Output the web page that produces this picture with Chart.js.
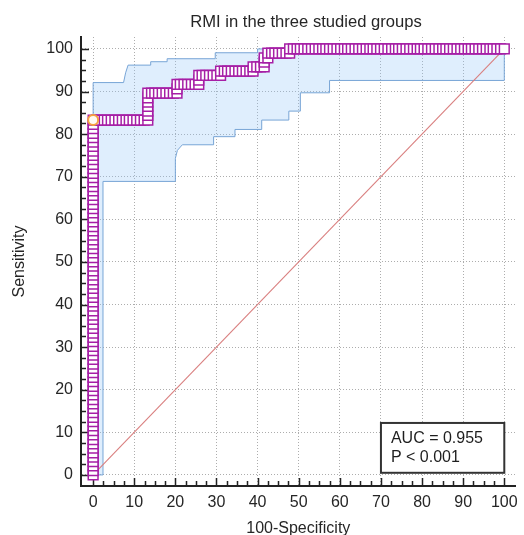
<!DOCTYPE html>
<html>
<head>
<meta charset="utf-8">
<script src="https://cdn.jsdelivr.net/npm/chart.js@4.4.1/dist/chart.umd.min.js"></script>
<style>
  html, body { margin: 0; padding: 0; background: #fff; }
</style>
</head>
<body>
<canvas id="roc" width="524" height="535"></canvas>
<script>
// RMI ROC curve
const chartTitle = 'RMI in the three studied groups';
const xTitle = '100-Specificity';
const yTitle = 'Sensitivity';
const tickValues = [0, 10, 20, 30, 40, 50, 60, 70, 80, 90, 100];
const aucLines = ['AUC = 0.955', 'P < 0.001'];

// sensitivity values sitting on 100-Specificity = 0
const tprAtZero = [0, 1.0, 2.1, 3.1, 4.2, 5.2, 6.3, 7.3, 8.3, 9.4, 10.4, 11.5, 12.5, 13.5, 14.6, 15.6,
  16.7, 17.7, 18.8, 19.8, 20.8, 21.9, 22.9, 24.0, 25.0, 26.0, 27.1, 28.1, 29.2, 30.2, 31.3, 32.3,
  33.3, 34.4, 35.4, 36.5, 37.5, 38.5, 39.6, 40.6, 41.7, 42.7, 43.8, 44.8, 45.8, 46.9, 47.9, 49.0,
  50.0, 51.0, 52.1, 53.1, 54.2, 55.2, 56.3, 57.3, 58.3, 59.4, 60.4, 61.5, 62.5, 63.5, 64.6, 65.6,
  66.7, 67.7, 68.8, 69.8, 70.8, 71.9, 72.9, 74.0, 75.0, 76.0, 77.1, 78.1, 79.2, 80.2, 81.3, 82.3, 83.3];

// rest of the curve as [100-specificity, sensitivity]
const rocSteps = [
  [0.9, 83.3], [1.8, 83.3], [2.7, 83.3], [3.5, 83.3], [4.4, 83.3], [5.3, 83.3], [6.2, 83.3], [7.1, 83.3],
  [8.0, 83.3], [8.8, 83.3], [9.7, 83.3], [10.6, 83.3], [11.5, 83.3], [12.4, 83.3], [13.3, 83.3],
  [13.3, 84.4], [13.3, 85.4], [13.3, 86.5], [13.3, 87.5], [13.3, 88.5], [13.3, 89.6],
  [14.2, 89.6], [15.0, 89.6], [15.9, 89.6], [16.8, 89.6], [17.7, 89.6], [18.6, 89.6], [19.5, 89.6], [20.4, 89.6],
  [20.4, 90.6], [20.4, 91.7],
  [21.2, 91.7], [22.1, 91.7], [23.0, 91.7], [23.9, 91.7], [24.8, 91.7], [25.7, 91.7],
  [25.7, 92.7], [25.7, 93.8],
  [26.5, 93.8], [27.4, 93.8], [28.3, 93.8], [29.2, 93.8], [30.1, 93.8], [31.0, 93.8],
  [31.0, 94.8],
  [31.9, 94.8], [32.7, 94.8], [33.6, 94.8], [34.5, 94.8], [35.4, 94.8], [36.3, 94.8], [37.2, 94.8], [38.1, 94.8], [38.9, 94.8],
  [38.9, 95.8], [39.8, 95.8], [40.7, 95.8], [41.6, 95.8],
  [41.6, 96.9], [41.6, 97.9], [42.5, 97.9], [42.5, 99.0],
  [43.4, 99.0], [44.2, 99.0], [45.1, 99.0], [46.0, 99.0], [46.9, 99.0], [47.8, 99.0],
  [47.8, 100], [48.7, 100], [49.6, 100], [50.4, 100], [51.3, 100], [52.2, 100], [53.1, 100], [54.0, 100],
  [54.9, 100], [55.8, 100], [56.6, 100], [57.5, 100], [58.4, 100], [59.3, 100], [60.2, 100], [61.1, 100],
  [61.9, 100], [62.8, 100], [63.7, 100], [64.6, 100], [65.5, 100], [66.4, 100], [67.3, 100], [68.1, 100],
  [69.0, 100], [69.9, 100], [70.8, 100], [71.7, 100], [72.6, 100], [73.5, 100], [74.3, 100], [75.2, 100],
  [76.1, 100], [77.0, 100], [77.9, 100], [78.8, 100], [79.6, 100], [80.5, 100], [81.4, 100], [82.3, 100],
  [83.2, 100], [84.1, 100], [85.0, 100], [85.8, 100], [86.7, 100], [87.6, 100], [88.5, 100], [89.4, 100],
  [90.3, 100], [91.2, 100], [92.0, 100], [92.9, 100], [93.8, 100], [94.7, 100], [95.6, 100], [96.5, 100],
  [97.3, 100], [98.2, 100], [99.1, 100], [100, 100]
];

// optimal cut-off (orange circle)
const cutoffPoint = [0, 83.3];

// 95% confidence bounds
const upperBand = [[0, 0], [0, 92.1], [7.4, 92.1], [7.9, 94.4], [8.5, 96.2], [14, 96.2], [14, 97], [18, 97],
  [18, 97.7], [29.7, 97.7], [29.7, 99.1], [40, 99.1], [40, 100], [100, 100]];
const lowerBand = [[0, 0], [2.4, 0], [2.4, 68.9], [20, 68.9], [20, 74.3], [20.5, 76.2], [21.7, 77.5],
  [29.3, 77.5], [29.3, 79.4], [34.5, 79.4], [34.5, 81.1], [41, 81.1], [41, 83.3], [47.6, 83.3],
  [47.6, 85.4], [50.4, 85.4], [50.4, 89.7], [57.5, 89.7], [57.5, 92.6], [100, 92.6], [100, 100]];

const chanceLine = [[0, 0], [100, 100]];

const toXY = arr => arr.map(p => ({x: p[0], y: p[1]}));
const rocPoints = tprAtZero.map(v => ({x: 0, y: v})).concat(toXY(rocSteps));

Chart.defaults.font.family = '"Liberation Sans", Arial, sans-serif';
Chart.defaults.font.size = 16;
Chart.defaults.color = '#262626';

// inward tick marks, title and AUC box
const rocDecor = {
  id: 'rocDecor',
  beforeDatasetsDraw(chart) {
    const {ctx, scales: {x, y}, chartArea: a} = chart;
    ctx.save();
    ctx.strokeStyle = '#222';
    ctx.lineWidth = 1.5;
    ctx.beginPath();
    for (let v = 0; v <= 100; v += 2.5) {
      const len = v % 10 === 0 ? 8 : 5;
      const px = Math.round(x.getPixelForValue(v)) + 0.5;
      ctx.moveTo(px, a.bottom);
      ctx.lineTo(px, a.bottom - len);
      const py = Math.round(y.getPixelForValue(v)) + 0.5;
      ctx.moveTo(a.left, py);
      ctx.lineTo(a.left + len, py);
    }
    ctx.stroke();
    ctx.restore();
  },
  afterDraw(chart) {
    const {ctx, scales: {x, y}} = chart;
    ctx.save();
    ctx.fillStyle = '#262626';
    ctx.font = '16.6px "Liberation Sans", Arial, sans-serif';
    ctx.textAlign = 'center';
    ctx.textBaseline = 'middle';
    ctx.fillText(chartTitle, 306, 22);

    const bx1 = x.getPixelForValue(70), bx2 = x.getPixelForValue(100);
    const by1 = y.getPixelForValue(12.2), by2 = y.getPixelForValue(0.5);
    ctx.fillStyle = '#ffffff';
    ctx.fillRect(bx1, by1, bx2 - bx1, by2 - by1);
    ctx.strokeStyle = '#333';
    ctx.lineWidth = 2;
    ctx.strokeRect(bx1, by1, bx2 - bx1, by2 - by1);
    ctx.fillStyle = '#1e1e1e';
    ctx.font = '16px "Liberation Sans", Arial, sans-serif';
    ctx.textAlign = 'left';
    aucLines.forEach((t, i) => ctx.fillText(t, bx1 + 10, by1 + 16 + i * 19));
    ctx.restore();
  }
};

const axisCommon = {
  type: 'linear',
  afterBuildTicks: s => { s.ticks = tickValues.map(v => ({value: v})); },
  grid: { color: '#adadad', lineWidth: 1, drawTicks: false },
  border: { display: true, color: '#222', width: 2, dash: [1, 2] }
};

const ctx = document.getElementById('roc').getContext('2d');
const rocChart = new Chart(ctx, {
  type: 'line',
  data: {
    datasets: [
      {
        data: toXY([cutoffPoint]),
        showLine: false,
        pointStyle: 'circle',
        pointRadius: 5,
        pointBorderWidth: 2,
        pointBorderColor: '#f5a040',
        pointBackgroundColor: '#fffaf2'
      },
      {
        data: rocPoints,
        borderColor: '#a61fa6',
        borderWidth: 1,
        pointStyle: 'rect',
        pointRadius: 6.9,
        pointBorderWidth: 1.5,
        pointBorderColor: '#a61fa6',
        pointBackgroundColor: '#ffffff'
      },
      {
        data: toXY(chanceLine),
        borderColor: '#d97f7f',
        borderWidth: 1.1,
        pointRadius: 0
      },
      {
        data: toXY(upperBand),
        borderColor: '#78a5d6',
        borderWidth: 1,
        pointRadius: 0,
        fill: false
      },
      {
        data: toXY(lowerBand),
        borderColor: '#78a5d6',
        borderWidth: 1,
        pointRadius: 0,
        fill: '-1',
        backgroundColor: 'rgba(150, 200, 250, 0.3)'
      }
    ]
  },
  options: {
    responsive: false,
    animation: false,
    events: [],
    layout: { padding: { top: 37, right: 2, left: 0, bottom: 0 } },
    plugins: {
      legend: { display: false },
      tooltip: { enabled: false },
      title: { display: false }
    },
    scales: {
      x: {
        ...axisCommon,
        min: -2.95,
        max: 102.75,
        ticks: { padding: 7, autoSkip: false, maxRotation: 0, color: '#262626' },
        title: { display: true, text: xTitle, color: '#262626', padding: { top: 0, bottom: -3 } },
        afterFit: s => { s.height = 49; s.paddingLeft = 0; s.paddingRight = 0; }
      },
      y: {
        ...axisCommon,
        min: -2.6,
        max: 102.8,
        ticks: { padding: 8, autoSkip: false, color: '#262626' },
        title: { display: true, text: yTitle, color: '#262626', padding: { top: 10, bottom: 0 } },
        afterFit: s => { s.width = 81; s.paddingTop = 0; s.paddingBottom = 0; }
      }
    }
  },
  plugins: [rocDecor]
});
</script>
</body>
</html>
